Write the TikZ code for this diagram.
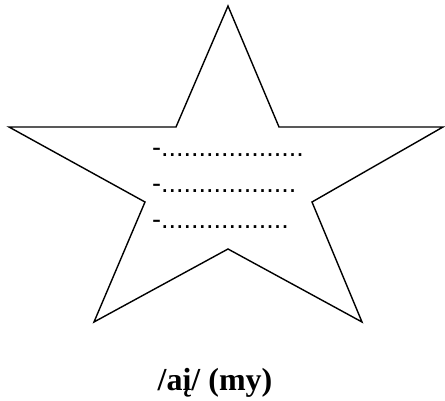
\documentclass[tikz,border=0pt]{standalone}
\usepackage{fontspec}
\setmainfont{Liberation Serif}
\newfontfamily\dotfont{Liberation Sans}
\tikzset{
  starline/.style = {draw=black, line width=1.4pt, line join=miter},
  blank/.style = {inner sep=0pt, anchor=base west, font=\dotfont\fontsize{27}{32}\selectfont},
  caption/.style = {inner sep=0pt, anchor=base, font=\bfseries\fontsize{32}{38}\selectfont}
}
\begin{document}
\begin{tikzpicture}[x=1pt, y=-1pt]
\useasboundingbox (0,0) rectangle (445,401);
% star outline
\draw[starline] (228,6) -- (279,127) -- (443,127) -- (312,202) -- (362,322)
  -- (228,249) -- (94,322) -- (145,202) -- (9,127) -- (176,127) -- cycle;
% lines to fill in
\node[blank] (l1) at (152,157) {-...................};
\node[blank] (l2) at (152,193) {-..................};
\node[blank] (l3) at (152,229) {-.................};
% caption
\node[caption] (cap) at (215,390) {/aį/ (my)};
\end{tikzpicture}
\end{document}
